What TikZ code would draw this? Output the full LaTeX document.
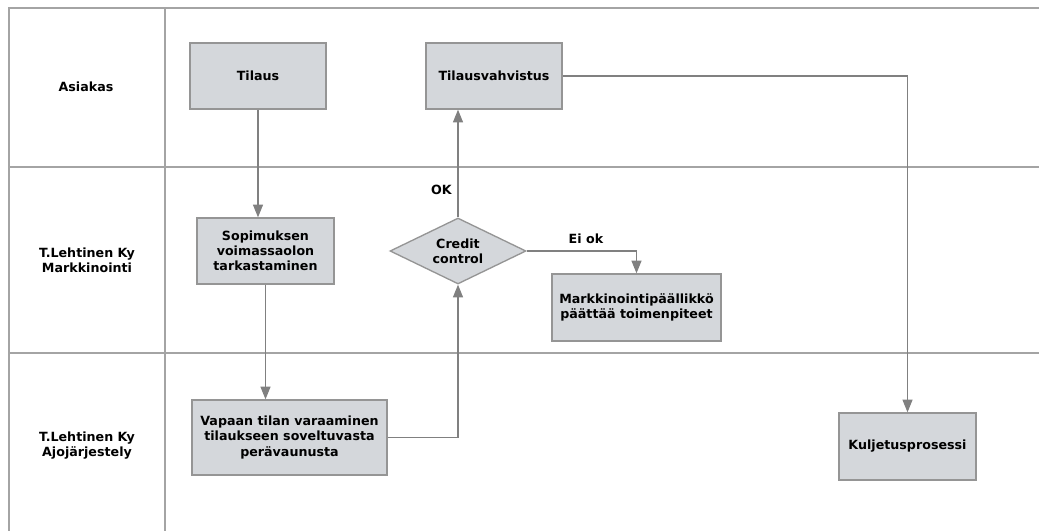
\documentclass[tikz,border=0pt]{standalone}
\usepackage{fontspec}
\setmainfont{DejaVu Sans}
\usetikzlibrary{shapes.geometric,arrows.meta}

\definecolor{lanegray}{HTML}{A4A4A4}
\definecolor{linegray}{HTML}{808080}
\definecolor{boxfill}{HTML}{D4D7DB}
\definecolor{boxdraw}{HTML}{959595}

\tikzset{
  lane/.style={draw=lanegray, line width=1.2pt},
  lanelabel/.style={align=center, font=\fontsize{9.5}{11.3}\selectfont\bfseries},
  procbox/.style={rectangle, draw=boxdraw, fill=boxfill, line width=1pt,
    align=center, inner sep=0pt, font=\fontsize{9.5}{11.3}\selectfont\bfseries},
  decision/.style={diamond, draw=boxdraw, fill=boxfill, line width=1pt,
    align=center, inner sep=0pt, shape aspect=2.06,
    minimum width=102pt, minimum height=49.5pt,
    font=\fontsize{9.5}{11.3}\selectfont\bfseries},
  conn/.style={draw=linegray, line width=0.8pt},
  arrow/.style={conn, -{Triangle[length=9.5pt, width=7.5pt]}, color=linegray},
  flowlabel/.style={font=\fontsize{9.5}{11.3}\selectfont\bfseries, inner sep=0pt}
}

\begin{document}
\begin{tikzpicture}[x=0.75pt, y=-0.75pt]
  \useasboundingbox (0,0) rectangle (1039,531);

  % swimlane grid
  \coordinate (tl) at (9,8);
  \draw[lane] (1039,8) -- (9,8) -- (9,531);
  \draw[lane] (165,8) -- (165,531);
  \draw[lane] (9,167) -- (1039,167);
  \draw[lane] (9,353) -- (1039,353);

  % lane titles
  \node[lanelabel] (l1) at (86,87) {Asiakas};
  \node[lanelabel] (l2) at (87,260) {T.Lehtinen Ky\\Markkinointi};
  \node[lanelabel] (l3) at (87,446) {T.Lehtinen Ky\\Ajojärjestely};

  % process steps
  \node[procbox, minimum width=102pt, minimum height=49.5pt] (tilaus) at (258,76) {Tilaus};
  \node[procbox, minimum width=102pt, minimum height=49.5pt] (vahv) at (494,76) {Tilausvahvistus};
  \node[procbox, minimum width=102.75pt, minimum height=49.5pt] (sopi) at (265.5,251)
    {Sopimuksen\\voimassaolon\\tarkastaminen};
  \node[decision] (credit) at (458,251) {Credit\\control};
  \node[procbox, minimum width=126.75pt, minimum height=50.25pt] (markk) at (636.5,307.5)
    {Markkinointipäällikkö\\päättää toimenpiteet};
  \node[procbox, minimum width=146.25pt, minimum height=56.25pt] (vapaan) at (289.5,437.5)
    {Vapaan tilan varaaminen\\tilaukseen soveltuvasta\\perävaunusta};
  \node[procbox, minimum width=102.75pt, minimum height=50.25pt] (kulj) at (907.5,446.5)
    {Kuljetusprosessi};

  % flow
  \draw[arrow] (tilaus.south) -- (tilaus.south |- sopi.north);
  \draw[arrow] (sopi.south) -- (sopi.south |- vapaan.north);
  \draw[arrow] (vapaan.east) -| (credit.south);
  \draw[arrow] (credit.north) -- (credit.north |- vahv.south);
  \draw[arrow] (credit.east) -| (markk.north);
  \draw[arrow] (vahv.east) -| (kulj.north);

  % branch labels
  \node[flowlabel, anchor=east] (ok) at (452,190) {OK};
  \node[flowlabel] (eiok) at (586,239) {Ei ok};
\end{tikzpicture}
\end{document}
